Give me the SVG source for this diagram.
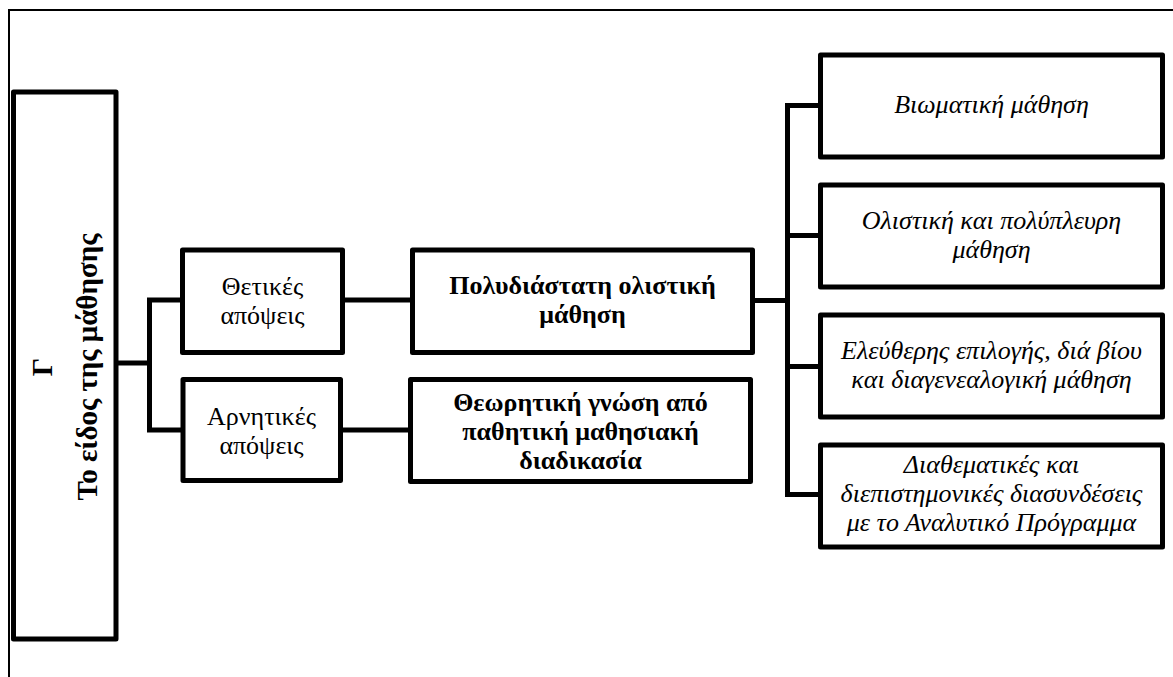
<svg xmlns="http://www.w3.org/2000/svg" width="1173" height="677" viewBox="0 0 1173 677">
  <style>
    .frame { fill: none; stroke: #000; stroke-width: 2; }
    .box { fill: #fff; stroke: #000; stroke-width: 5; stroke-linejoin: round; }
    .wire { fill: none; stroke: #000; stroke-width: 5; stroke-linejoin: miter; }
    text { font-family: "Liberation Serif", "DejaVu Serif", serif; font-size: 26px; fill: #000; text-anchor: middle; }
    .b { font-weight: bold; }
    .i { font-style: italic; }
    .title { font-size: 29px; font-weight: bold; }
  </style>

  <rect width="1173" height="677" fill="#fff"/>
  <!-- page frame -->
  <polyline class="frame" points="9,677 9,10 1173,10"/>

  <!-- connectors -->
  <g id="connectors">
    <polyline class="wire" points="116,363 149.5,363"/>
    <polyline class="wire" points="182.5,300 149.5,300 149.5,430 183,430"/>
    <line class="wire" x1="342.5" y1="300" x2="412.5" y2="300"/>
    <line class="wire" x1="340.5" y1="430" x2="410.5" y2="430"/>
    <line class="wire" x1="752.5" y1="300.5" x2="787.5" y2="300.5"/>
    <polyline class="wire" points="820.5,105.5 787.5,105.5 787.5,494.5 820.5,494.5"/>
    <line class="wire" x1="787.5" y1="235.5" x2="820.5" y2="235.5"/>
    <line class="wire" x1="787.5" y1="366.5" x2="820.5" y2="366.5"/>
  </g>

  <!-- root: rotated title -->
  <g id="node-root">
    <rect class="box" x="13.5" y="92" width="102.5" height="547"/>
    <g transform="translate(0,367) rotate(-90)">
      <text class="title" x="0" y="52">Γ</text>
      <text class="title" x="0" y="97">Το είδος της μάθησης</text>
    </g>
  </g>

  <g id="node-positive">
    <rect class="box" x="182.5" y="250" width="160" height="102.5"/>
    <text x="262.5" y="295">Θετικές</text>
    <text x="262.5" y="324">απόψεις</text>
  </g>

  <g id="node-negative">
    <rect class="box" x="183" y="379.5" width="157.5" height="101"/>
    <text x="261.5" y="425">Αρνητικές</text>
    <text x="261.5" y="454">απόψεις</text>
  </g>

  <g id="node-holistic">
    <rect class="box" x="412.5" y="250" width="340" height="102.5"/>
    <text class="b" x="582.5" y="294">Πολυδιάστατη ολιστική</text>
    <text class="b" x="582.5" y="323">μάθηση</text>
  </g>

  <g id="node-theoretical">
    <rect class="box" x="410.5" y="379.5" width="340" height="102"/>
    <text class="b" x="580.5" y="411">Θεωρητική γνώση από</text>
    <text class="b" x="580.5" y="440">παθητική μαθησιακή</text>
    <text class="b" x="580.5" y="469">διαδικασία</text>
  </g>

  <g id="node-experiential">
    <rect class="box" x="820.5" y="55" width="342" height="102"/>
    <text class="i" x="991.5" y="113">Βιωματική μάθηση</text>
  </g>

  <g id="node-multifaceted">
    <rect class="box" x="820.5" y="185" width="342" height="102"/>
    <text class="i" x="991.5" y="228.5">Ολιστική και πολύπλευρη</text>
    <text class="i" x="991.5" y="257.5">μάθηση</text>
  </g>

  <g id="node-lifelong">
    <rect class="box" x="820.5" y="315" width="342" height="102"/>
    <text class="i" x="991.5" y="359">Ελεύθερης επιλογής, διά βίου</text>
    <text class="i" x="991.5" y="388">και διαγενεαλογική μάθηση</text>
  </g>

  <g id="node-crosscurricular">
    <rect class="box" x="820.5" y="445" width="342" height="102"/>
    <text class="i" x="991.5" y="473">Διαθεματικές και</text>
    <text class="i" x="991.5" y="502">διεπιστημονικές διασυνδέσεις</text>
    <text class="i" x="991.5" y="531">με το Αναλυτικό Πρόγραμμα</text>
  </g>
</svg>
